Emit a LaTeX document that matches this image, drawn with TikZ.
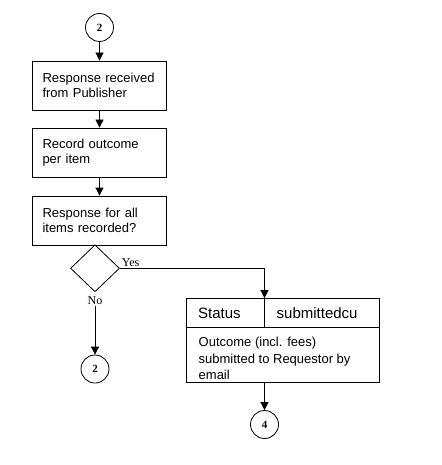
\documentclass[tikz,border=0pt]{standalone}
\usepackage{fontspec}
\setmainfont{Liberation Serif}
\setsansfont{Liberation Sans}
\usetikzlibrary{shapes.geometric,arrows.meta}
\tikzset{
  stepbox/.style={draw, line width=0.8pt, minimum width=134pt, minimum height=49pt,
    text width=114pt, align=left, inner sep=0pt,
    font=\sffamily\fontsize{13}{15.5}\selectfont},
  connector/.style={circle, draw, line width=0.8pt, minimum size=28pt, inner sep=0pt,
    font=\bfseries\fontsize{11}{11}\selectfont},
  flow/.style={line width=0.8pt, -{Triangle[length=8pt,width=8pt]}},
  lbl/.style={inner sep=1.5pt, font=\fontsize{12}{12}\selectfont},
}
\begin{document}
\begin{tikzpicture}[x=1pt,y=-1pt]
\useasboundingbox (0,0) rectangle (441,465);
\node[connector] (top2) at (99.5,27.5) {2};
\node[stepbox] (resp) at (99.5,85.5) {Response received\\from Publisher};
\node[stepbox] (rec) at (99.5,152.5) {Record outcome\\per item};
\node[stepbox] (chk) at (99.5,220.5) {Response for all\\items recorded?};
\node[diamond, draw, line width=0.8pt, minimum width=49pt, minimum height=47pt, inner sep=0pt] (dec) at (95,268.3) {};
\node[lbl] (no) at (95,300.5) {No};
\node[connector] (bot2) at (95,369) {2};
% status box
\node[draw, line width=0.8pt, minimum width=193pt, minimum height=83.5pt] (sent) at (283,340.25) {};
\coordinate (rowsep) at (264.5,327.3);
\draw[line width=0.8pt] (sent.west |- rowsep) -- (sent.east |- rowsep);
\draw[line width=0.8pt] (sent.north -| rowsep) -- (rowsep);
\node[anchor=west, inner sep=0pt, font=\sffamily\fontsize{15}{15}\selectfont] (status) at (198,313) {Status};
\node[anchor=west, inner sep=0pt, font=\sffamily\fontsize{15}{15}\selectfont] (statval) at (276.5,313) {submittedcu};
\node[anchor=west, inner sep=0pt, align=left, font=\sffamily\fontsize{13}{16.5}\selectfont] (outcome) at (198.5,358.5) {Outcome (incl. fees)\\submitted to Requestor by\\email};
\node[connector] (c4) at (264.5,424.5) {4};
% arrows
\draw[flow] (top2) -- (resp);
\draw[flow] (resp) -- (rec);
\draw[flow] (rec) -- (chk);
\draw[flow] (dec.east) node[lbl, anchor=south west] (yes) {Yes} -| (sent.north -| rowsep);
\draw[flow] (no) -- (bot2);
\draw[flow] (sent.south -| c4) -- (c4);
\end{tikzpicture}
\end{document}
